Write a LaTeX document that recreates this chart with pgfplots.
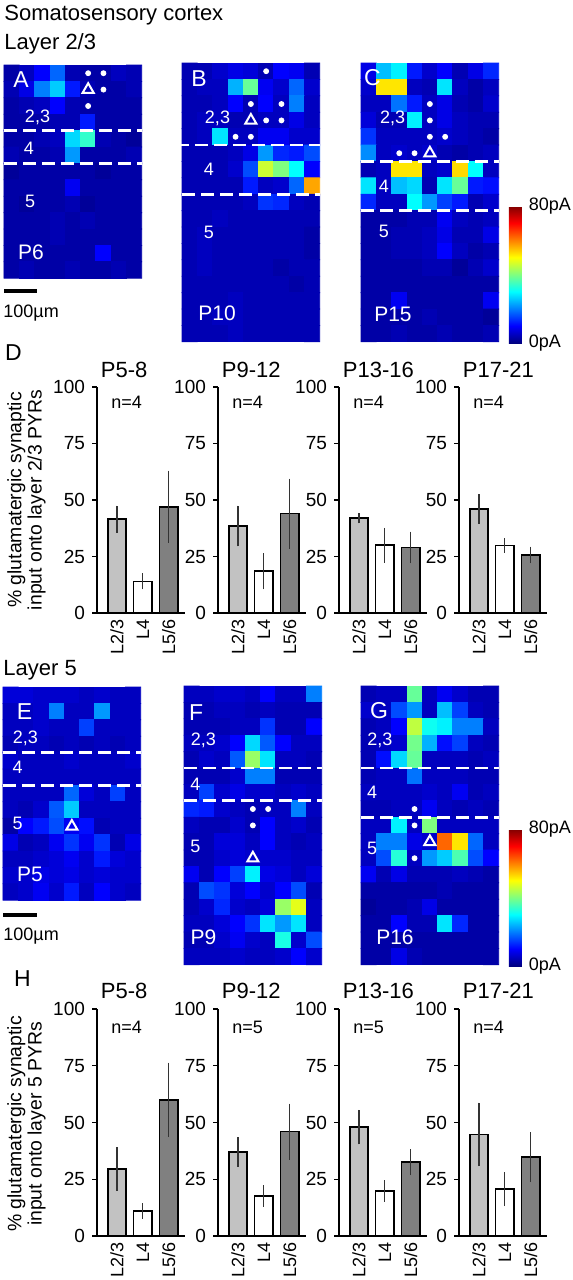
\documentclass[border=0pt]{standalone}
\usepackage{fontspec}
\setmainfont{Liberation Sans}
\usepackage{pgfplots}
\pgfplotsset{compat=1.18}
\newcommand\fhead{\fontsize{11}{12}\selectfont}
\newcommand\ftitle{\fontsize{11}{12}\selectfont}
\newcommand\ftick{\fontsize{9.5}{10}\selectfont}
\newcommand\fxt{\fontsize{9}{10}\selectfont}
\newcommand\fn{\fontsize{9}{10}\selectfont}
\newcommand\fcb{\fontsize{9}{10}\selectfont}
\newcommand\flay{\fontsize{9}{10}\selectfont}
\newcommand\fP{\fontsize{10.5}{11}\selectfont}
\newcommand\flet{\fontsize{11.5}{12}\selectfont}
\definecolor{barA}{gray}{0.76}
\definecolor{barC}{gray}{0.5}
\tikzset{
 hmdash/.style={white, line width=1.4pt, dash pattern=on 6.5pt off 3pt},
 hml/.style={text=white, inner sep=0pt},
}
\pgfplotsset{
 hm/.style={anchor=north west, scale only axis, width=68.85pt, hide axis,
   xmin=-0.5, xmax=8.5, ymin=-0.5, y dir=reverse, enlargelimits=false,
   colormap/jet, point meta min=0, point meta max=80, clip=false},
 cb/.style={colorbar, colorbar style={at={(parent axis.south east)}, anchor=south west,
   xshift=-3.5pt, yshift=-0.6pt, scale only axis, width=6.5pt, height=68.5pt,
   ytick={0,80}, yticklabels={0pA,80pA}, ytick style={draw=none},
   yticklabel style={font=\fcb}, axis line style={draw=none}}},
 barax/.style={anchor=south west, scale only axis, width=43.8pt,
   ymin=0, ymax=100, xmin=0.23, xmax=3.61, enlargelimits=false,
   axis x line*=bottom, axis y line*=left, ytick={0,25,50,75,100},
   xtick={1,2,3}, xticklabels={L2/3,L4,L5/6}, xtick style={draw=none},
   ytick style={line width=0.7pt, black}, tick align=outside, major tick length=2.5pt,
   axis line style={line width=0.7pt}, ybar, bar width=9.25pt, clip=false,
   yticklabel style={font=\ftick},
   xticklabel style={font=\fxt, rotate=90, anchor=east, inner sep=0.5pt},
   /pgf/number format/assume math mode=true},
 eb/.style={bar shift=0pt, draw=black, line width=0.8pt,
   error bars/.cd, y dir=both, y explicit, error mark=none,
   error bar style={line width=0.55pt, black!80}},
}
\def\titx{0.04}\def\tity{1.075}\def\nx{0.16}\def\ny{0.934}
\newcommand{\barpanel}[9]{%
\begin{axis}[barax, #1]
\addplot[fill=barA, eb] coordinates {(1,#4) +- (0,#5)};
\addplot[fill=white, eb] coordinates {(2,#6) +- (0,#7)};
\addplot[fill=barC, eb] coordinates {(3,#8) +- (0,#9)};
\node[anchor=west, inner sep=0pt, font=\ftitle] at (axis description cs:\titx,\tity) {#2};
\node[anchor=west, inner sep=0pt, font=\fn] at (axis description cs:\nx,\ny) {#3};
\end{axis}}
\begin{document}
\begin{tikzpicture}
\useasboundingbox (0,0) rectangle (286.5pt,-640pt);
% ---------- texts
\node[anchor=base west, inner sep=0pt, font=\fhead] at (2pt,-10.3pt) {Somatosensory cortex};
\node[anchor=base west, inner sep=0pt, font=\fhead] at (2pt,-24.7pt) {Layer 2/3};
\node[anchor=base west, inner sep=0pt, font=\fhead] at (1.5pt,-337.5pt) {Layer 5};
\node[inner sep=0pt, font=\flet] at (6.75pt,-176.25pt) {D};
\node[inner sep=0pt, font=\flet] at (11.25pt,-489.5pt) {H};
\fill (2pt,-144.5pt) rectangle (18.5pt,-146.5pt);
\node[anchor=base west, inner sep=0pt, font=\fn] at (1.5pt,-158.5pt) {100µm};
\fill (1.5pt,-456.5pt) rectangle (18.5pt,-458.5pt);
\node[anchor=base west, inner sep=0pt, font=\fn] at (1.5pt,-470pt) {100µm};
\node[rotate=90, align=center, font=\fontsize{9.7}{8.8}\selectfont] at (13.25pt,-250pt) {\% glutamatergic synaptic\\input onto layer 2/3 PYRs};
\node[rotate=90, align=center, font=\fontsize{9.7}{8.8}\selectfont] at (13.25pt,-562pt) {\% glutamatergic synaptic\\input onto layer 5 PYRs};
% ---------- A
\begin{axis}[hm, at={(2pt,-32.5pt)}, height=106.6pt, ymax=12.5]
\addplot[matrix plot*, mesh/cols=9, point meta=explicit] coordinates {
(0,0)[3] (1,0)[5] (2,0)[10] (3,0)[18] (4,0)[4] (5,0)[3] (6,0)[3] (7,0)[5] (8,0)[4]
(0,1)[4] (1,1)[8] (2,1)[20] (3,1)[26] (4,1)[12] (5,1)[4] (6,1)[3] (7,1)[3] (8,1)[4]
(0,2)[3] (1,2)[4] (2,2)[5] (3,2)[10] (4,2)[4] (5,2)[3] (6,2)[3] (7,2)[3] (8,2)[3]
(0,3)[3] (1,3)[3] (2,3)[3] (3,3)[4] (4,3)[4] (5,3)[12] (6,3)[3] (7,3)[3] (8,3)[3]
(0,4)[3] (1,4)[3] (2,4)[4] (3,4)[5] (4,4)[27] (5,4)[34] (6,4)[4] (7,4)[3] (8,4)[2]
(0,5)[4] (1,5)[3] (2,5)[3] (3,5)[4] (4,5)[22] (5,5)[3] (6,5)[3] (7,5)[3] (8,5)[4]
(0,6)[2] (1,6)[3] (2,6)[3] (3,6)[3] (4,6)[3] (5,6)[3] (6,6)[2] (7,6)[3] (8,6)[3]
(0,7)[3] (1,7)[3] (2,7)[3] (3,7)[3] (4,7)[9] (5,7)[3] (6,7)[3] (7,7)[3] (8,7)[3]
(0,8)[3] (1,8)[2] (2,8)[3] (3,8)[3] (4,8)[4] (5,8)[2] (6,8)[3] (7,8)[3] (8,8)[3]
(0,9)[3] (1,9)[3] (2,9)[3] (3,9)[4] (4,9)[3] (5,9)[4] (6,9)[3] (7,9)[3] (8,9)[3]
(0,10)[3] (1,10)[3] (2,10)[3] (3,10)[4] (4,10)[3] (5,10)[3] (6,10)[3] (7,10)[3] (8,10)[3]
(0,11)[3] (1,11)[3] (2,11)[3] (3,11)[3] (4,11)[3] (5,11)[3] (6,11)[10] (7,11)[3] (8,11)[3]
(0,12)[3] (1,12)[4] (2,12)[3] (3,12)[3] (4,12)[4] (5,12)[3] (6,12)[3] (7,12)[4] (8,12)[3]
};
\addplot[only marks, mark=*, mark size=1.25pt, white] coordinates {(5,0) (6,0) (6,1) (5,2)};
\addplot[only marks, mark=triangle, mark size=3.2pt, white, line width=1pt] coordinates {(5,1)};
\draw[hmdash] (axis cs:-0.5,3.5) -- (axis cs:8.5,3.5);
\draw[hmdash] (axis cs:-0.5,5.5) -- (axis cs:8.5,5.5);
\node[hml, font=\flet] at (axis cs:0.61,0.41) {A};
\node[hml, font=\flay] at (axis cs:1.69,2.67) {2,3};
\node[hml, font=\flay] at (axis cs:1.13,4.56) {4};
\node[hml, font=\flay] at (axis cs:1.2,7.8) {5};
\node[hml, font=\fP] at (axis cs:1.26,10.9) {P6};
\end{axis}
% ---------- B
\begin{axis}[hm, at={(91pt,-31.5pt)}, height=139.4pt, ymax=16.5]
\addplot[matrix plot*, mesh/cols=9, point meta=explicit] coordinates {
(0,0)[4] (1,0)[4] (2,0)[6] (3,0)[8] (4,0)[7] (5,0)[4] (6,0)[10] (7,0)[9] (8,0)[4]
(0,1)[4] (1,1)[5] (2,1)[5] (3,1)[24] (4,1)[38] (5,1)[9] (6,1)[6] (7,1)[18] (8,1)[6]
(0,2)[4] (1,2)[4] (2,2)[5] (3,2)[10] (4,2)[4] (5,2)[10] (6,2)[5] (7,2)[20] (8,2)[5]
(0,3)[4] (1,3)[5] (2,3)[5] (3,3)[4] (4,3)[4] (5,3)[5] (6,3)[5] (7,3)[8] (8,3)[5]
(0,4)[4] (1,4)[5] (2,4)[28] (3,4)[5] (4,4)[5] (5,4)[9] (6,4)[9] (7,4)[6] (8,4)[6]
(0,5)[4] (1,5)[4] (2,5)[4] (3,5)[5] (4,5)[8] (5,5)[22] (6,5)[13] (7,5)[12] (8,5)[16]
(0,6)[4] (1,6)[4] (2,6)[4] (3,6)[6] (4,6)[16] (5,6)[46] (6,6)[40] (7,6)[30] (8,6)[10]
(0,7)[4] (1,7)[4] (2,7)[4] (3,7)[4] (4,7)[12] (5,7)[5] (6,7)[6] (7,7)[18] (8,7)[57]
(0,8)[4] (1,8)[4] (2,8)[4] (3,8)[4] (4,8)[5] (5,8)[14] (6,8)[13] (7,8)[5] (8,8)[4]
(0,9)[4] (1,9)[4] (2,9)[5] (3,9)[4] (4,9)[4] (5,9)[4] (6,9)[4] (7,9)[4] (8,9)[4]
(0,10)[4] (1,10)[5] (2,10)[4] (3,10)[4] (4,10)[4] (5,10)[4] (6,10)[4] (7,10)[4] (8,10)[3]
(0,11)[4] (1,11)[5] (2,11)[4] (3,11)[4] (4,11)[4] (5,11)[4] (6,11)[4] (7,11)[4] (8,11)[3]
(0,12)[4] (1,12)[5] (2,12)[4] (3,12)[4] (4,12)[4] (5,12)[4] (6,12)[3] (7,12)[4] (8,12)[4]
(0,13)[4] (1,13)[4] (2,13)[4] (3,13)[4] (4,13)[4] (5,13)[4] (6,13)[4] (7,13)[3] (8,13)[4]
(0,14)[4] (1,14)[4] (2,14)[4] (3,14)[5] (4,14)[4] (5,14)[4] (6,14)[4] (7,14)[4] (8,14)[4]
(0,15)[4] (1,15)[4] (2,15)[5] (3,15)[5] (4,15)[4] (5,15)[4] (6,15)[4] (7,15)[4] (8,15)[4]
(0,16)[4] (1,16)[4] (2,16)[4] (3,16)[5] (4,16)[4] (5,16)[4] (6,16)[4] (7,16)[4] (8,16)[4]
};
\addplot[only marks, mark=*, mark size=1.25pt, white] coordinates {(5,0) (4,2) (6,2) (5,3) (6,3) (3,4) (4,4)};
\addplot[only marks, mark=triangle, mark size=3.2pt, white, line width=1pt] coordinates {(4,3)};
\draw[hmdash] (axis cs:-0.9,4.5) -- (axis cs:8.5,4.5);
\draw[hmdash] (axis cs:-0.5,7.5) -- (axis cs:8.5,7.5);
\node[hml, font=\flet] at (axis cs:0.61,0.48) {B};
\node[hml, font=\flay] at (axis cs:1.82,2.88) {2,3};
\node[hml, font=\flay] at (axis cs:1.26,5.96) {4};
\node[hml, font=\flay] at (axis cs:1.26,9.8) {5};
\node[hml, font=\fP] at (axis cs:1.79,14.74) {P10};
\end{axis}
% ---------- C
\begin{axis}[hm, cb, at={(180.5pt,-31.5pt)}, height=139.4pt, ymax=16.5]
\addplot[matrix plot*, mesh/cols=9, point meta=explicit] coordinates {
(0,0)[8] (1,0)[25] (2,0)[29] (3,0)[12] (4,0)[6] (5,0)[10] (6,0)[4] (7,0)[8] (8,0)[13]
(0,1)[6] (1,1)[52] (2,1)[52] (3,1)[5] (4,1)[4] (5,1)[28] (6,1)[5] (7,1)[3] (8,1)[5]
(0,2)[5] (1,2)[5] (2,2)[19] (3,2)[12] (4,2)[5] (5,2)[8] (6,2)[4] (7,2)[3] (8,2)[6]
(0,3)[7] (1,3)[4] (2,3)[4] (3,3)[29] (4,3)[5] (5,3)[8] (6,3)[5] (7,3)[4] (8,3)[4]
(0,4)[14] (1,4)[5] (2,4)[5] (3,4)[5] (4,4)[5] (5,4)[6] (6,4)[5] (7,4)[4] (8,4)[3]
(0,5)[21] (1,5)[5] (2,5)[6] (3,5)[5] (4,5)[6] (5,5)[4] (6,5)[3] (7,5)[4] (8,5)[5]
(0,6)[4] (1,6)[5] (2,6)[52] (3,6)[52] (4,6)[5] (5,6)[6] (6,6)[53] (7,6)[30] (8,6)[5]
(0,7)[28] (1,7)[5] (2,7)[25] (3,7)[27] (4,7)[4] (5,7)[28] (6,7)[38] (7,7)[12] (8,7)[11]
(0,8)[13] (1,8)[5] (2,8)[5] (3,8)[30] (4,8)[22] (5,8)[15] (6,8)[12] (7,8)[4] (8,8)[6]
(0,9)[3] (1,9)[3] (2,9)[3] (3,9)[4] (4,9)[4] (5,9)[9] (6,9)[5] (7,9)[4] (8,9)[5]
(0,10)[3] (1,10)[3] (2,10)[4] (3,10)[4] (4,10)[5] (5,10)[8] (6,10)[4] (7,10)[4] (8,10)[8]
(0,11)[3] (1,11)[3] (2,11)[4] (3,11)[4] (4,11)[5] (5,11)[10] (6,11)[5] (7,11)[3] (8,11)[4]
(0,12)[3] (1,12)[3] (2,12)[3] (3,12)[3] (4,12)[4] (5,12)[4] (6,12)[2] (7,12)[4] (8,12)[6]
(0,13)[3] (1,13)[3] (2,13)[3] (3,13)[3] (4,13)[3] (5,13)[3] (6,13)[3] (7,13)[3] (8,13)[3]
(0,14)[3] (1,14)[3] (2,14)[9] (3,14)[3] (4,14)[3] (5,14)[3] (6,14)[3] (7,14)[3] (8,14)[9]
(0,15)[3] (1,15)[3] (2,15)[3] (3,15)[3] (4,15)[4] (5,15)[3] (6,15)[3] (7,15)[3] (8,15)[2]
(0,16)[3] (1,16)[3] (2,16)[4] (3,16)[3] (4,16)[3] (5,16)[4] (6,16)[3] (7,16)[3] (8,16)[4]
};
\addplot[only marks, mark=*, mark size=1.25pt, white] coordinates {(4,2) (4,3) (4,4) (5,4) (2,5) (3,5)};
\addplot[only marks, mark=triangle, mark size=3.2pt, white, line width=1pt] coordinates {(4,5)};
\draw[hmdash] (axis cs:-0.5,5.5) -- (axis cs:8.5,5.5);
\draw[hmdash] (axis cs:-0.5,8.5) -- (axis cs:8.5,8.5);
\node[hml, font=\flet] at (axis cs:0.25,0.38) {C};
\node[hml, font=\flay] at (axis cs:1.56,2.88) {2,3};
\node[hml, font=\flay] at (axis cs:1.0,7.0) {4};
\node[hml, font=\flay] at (axis cs:1.0,9.74) {5};
\node[hml, font=\fP] at (axis cs:1.59,14.8) {P15};
\end{axis}
% ---------- E
\begin{axis}[hm, at={(1.5pt,-343.5pt)}, height=106.6pt, ymax=12.5]
\addplot[matrix plot*, mesh/cols=9, point meta=explicit] coordinates {
(0,0)[7] (1,0)[7] (2,0)[6] (3,0)[6] (4,0)[6] (5,0)[5] (6,0)[6] (7,0)[5] (8,0)[5]
(0,1)[5] (1,1)[5] (2,1)[6] (3,1)[20] (4,1)[5] (5,1)[5] (6,1)[22] (7,1)[5] (8,1)[5]
(0,2)[5] (1,2)[5] (2,2)[6] (3,2)[5] (4,2)[5] (5,2)[15] (6,2)[5] (7,2)[5] (8,2)[5]
(0,3)[4] (1,3)[5] (2,3)[5] (3,3)[4] (4,3)[5] (5,3)[4] (6,3)[5] (7,3)[4] (8,3)[5]
(0,4)[6] (1,4)[5] (2,4)[5] (3,4)[5] (4,4)[6] (5,4)[5] (6,4)[5] (7,4)[5] (8,4)[6]
(0,5)[5] (1,5)[5] (2,5)[5] (3,5)[5] (4,5)[5] (5,5)[5] (6,5)[5] (7,5)[5] (8,5)[5]
(0,6)[5] (1,6)[5] (2,6)[5] (3,6)[5] (4,6)[18] (5,6)[7] (6,6)[5] (7,6)[15] (8,6)[5]
(0,7)[5] (1,7)[4] (2,7)[6] (3,7)[17] (4,7)[26] (5,7)[5] (6,7)[5] (7,7)[5] (8,7)[5]
(0,8)[3] (1,8)[10] (2,8)[12] (3,8)[16] (4,8)[9] (5,8)[11] (6,8)[4] (7,8)[5] (8,8)[5]
(0,9)[8] (1,9)[4] (2,9)[5] (3,9)[9] (4,9)[14] (5,9)[9] (6,9)[14] (7,9)[4] (8,9)[8]
(0,10)[5] (1,10)[5] (2,10)[6] (3,10)[7] (4,10)[9] (5,10)[6] (6,10)[12] (7,10)[7] (8,10)[6]
(0,11)[6] (1,11)[6] (2,11)[8] (3,11)[7] (4,11)[8] (5,11)[6] (6,11)[7] (7,11)[6] (8,11)[6]
(0,12)[5] (1,12)[6] (2,12)[9] (3,12)[6] (4,12)[12] (5,12)[5] (6,12)[10] (7,12)[6] (8,12)[5]
};
\addplot[only marks, mark=triangle, mark size=3.2pt, white, line width=1pt] coordinates {(4,8)};
\draw[hmdash] (axis cs:-0.5,3.5) -- (axis cs:8.5,3.5);
\draw[hmdash] (axis cs:-0.5,5.5) -- (axis cs:8.5,5.5);
\node[hml, font=\flet] at (axis cs:0.9,0.99) {E};
\node[hml, font=\flay] at (axis cs:0.97,2.64) {2,3};
\node[hml, font=\flay] at (axis cs:0.45,4.41) {4};
\node[hml, font=\flay] at (axis cs:0.45,7.82) {5};
\node[hml, font=\fP] at (axis cs:1.26,10.93) {P5};
\end{axis}
% ---------- F
\begin{axis}[hm, at={(92pt,-343pt)}, height=139.4pt, ymax=16.5]
\addplot[matrix plot*, mesh/cols=9, point meta=explicit] coordinates {
(0,0)[5] (1,0)[5] (2,0)[6] (3,0)[6] (4,0)[5] (5,0)[10] (6,0)[5] (7,0)[5] (8,0)[20]
(0,1)[4] (1,1)[4] (2,1)[5] (3,1)[5] (4,1)[4] (5,1)[5] (6,1)[4] (7,1)[4] (8,1)[4]
(0,2)[4] (1,2)[4] (2,2)[4] (3,2)[5] (4,2)[5] (5,2)[14] (6,2)[4] (7,2)[4] (8,2)[10]
(0,3)[5] (1,3)[5] (2,3)[6] (3,3)[10] (4,3)[27] (5,3)[17] (6,3)[10] (7,3)[5] (8,3)[5]
(0,4)[4] (1,4)[6] (2,4)[5] (3,4)[17] (4,4)[42] (5,4)[28] (6,4)[5] (7,4)[5] (8,4)[4]
(0,5)[4] (1,5)[4] (2,5)[4] (3,5)[6] (4,5)[20] (5,5)[20] (6,5)[4] (7,5)[4] (8,5)[4]
(0,6)[5] (1,6)[15] (2,6)[6] (3,6)[8] (4,6)[6] (5,6)[6] (6,6)[5] (7,6)[6] (8,6)[5]
(0,7)[13] (1,7)[12] (2,7)[6] (3,7)[5] (4,7)[4] (5,7)[5] (6,7)[5] (7,7)[20] (8,7)[5]
(0,8)[5] (1,8)[4] (2,8)[4] (3,8)[6] (4,8)[4] (5,8)[10] (6,8)[5] (7,8)[6] (8,8)[4]
(0,9)[4] (1,9)[4] (2,9)[7] (3,9)[7] (4,9)[5] (5,9)[10] (6,9)[5] (7,9)[4] (8,9)[5]
(0,10)[4] (1,10)[4] (2,10)[6] (3,10)[7] (4,10)[6] (5,10)[6] (6,10)[6] (7,10)[5] (8,10)[5]
(0,11)[9] (1,11)[4] (2,11)[10] (3,11)[15] (4,11)[29] (5,11)[8] (6,11)[7] (7,11)[5] (8,11)[7]
(0,12)[4] (1,12)[16] (2,12)[14] (3,12)[7] (4,12)[10] (5,12)[6] (6,12)[10] (7,12)[16] (8,12)[4]
(0,13)[4] (1,13)[6] (2,13)[13] (3,13)[6] (4,13)[5] (5,13)[7] (6,13)[42] (7,13)[48] (8,13)[5]
(0,14)[5] (1,14)[5] (2,14)[7] (3,14)[10] (4,14)[14] (5,14)[28] (6,14)[22] (7,14)[28] (8,14)[5]
(0,15)[4] (1,15)[4] (2,15)[6] (3,15)[9] (4,15)[6] (5,15)[5] (6,15)[32] (7,15)[6] (8,15)[16]
(0,16)[5] (1,16)[5] (2,16)[5] (3,16)[6] (4,16)[5] (5,16)[5] (6,16)[6] (7,16)[10] (8,16)[6]
};
\addplot[only marks, mark=*, mark size=1.25pt, white] coordinates {(4,7) (5,7) (4,8)};
\addplot[only marks, mark=triangle, mark size=3.2pt, white, line width=1pt] coordinates {(4,10)};
\draw[hmdash] (axis cs:-0.5,4.5) -- (axis cs:8.5,4.5);
\draw[hmdash] (axis cs:-0.5,6.5) -- (axis cs:8.5,6.5);
\node[hml, font=\flet] at (axis cs:0.3,1.12) {F};
\node[hml, font=\flay] at (axis cs:0.77,2.79) {2,3};
\node[hml, font=\flay] at (axis cs:0.25,5.48) {4};
\node[hml, font=\flay] at (axis cs:0.25,9.3) {5};
\node[hml, font=\fP] at (axis cs:0.77,14.8) {P9};
\end{axis}
% ---------- G
\begin{axis}[hm, cb, at={(180.5pt,-343pt)}, height=139.4pt, ymax=16.5]
\addplot[matrix plot*, mesh/cols=9, point meta=explicit] coordinates {
(0,0)[4] (1,0)[5] (2,0)[5] (3,0)[38] (4,0)[5] (5,0)[9] (6,0)[6] (7,0)[4] (8,0)[4]
(0,1)[6] (1,1)[5] (2,1)[16] (3,1)[22] (4,1)[5] (5,1)[25] (6,1)[15] (7,1)[5] (8,1)[4]
(0,2)[4] (1,2)[5] (2,2)[10] (3,2)[45] (4,2)[31] (5,2)[29] (6,2)[20] (7,2)[20] (8,2)[5]
(0,3)[4] (1,3)[5] (2,3)[6] (3,3)[39] (4,3)[24] (5,3)[11] (6,3)[15] (7,3)[5] (8,3)[4]
(0,4)[4] (1,4)[11] (2,4)[27] (3,4)[38] (4,4)[5] (5,4)[5] (6,4)[5] (7,4)[4] (8,4)[5]
(0,5)[4] (1,5)[5] (2,5)[5] (3,5)[19] (4,5)[5] (5,5)[5] (6,5)[5] (7,5)[4] (8,5)[4]
(0,6)[5] (1,6)[5] (2,6)[5] (3,6)[5] (4,6)[6] (5,6)[5] (6,6)[9] (7,6)[4] (8,6)[5]
(0,7)[4] (1,7)[4] (2,7)[5] (3,7)[5] (4,7)[9] (5,7)[5] (6,7)[4] (7,7)[5] (8,7)[4]
(0,8)[5] (1,8)[5] (2,8)[29] (3,8)[5] (4,8)[40] (5,8)[5] (6,8)[5] (7,8)[5] (8,8)[5]
(0,9)[5] (1,9)[20] (2,9)[20] (3,9)[8] (4,9)[6] (5,9)[62] (6,9)[52] (7,9)[18] (8,9)[5]
(0,10)[5] (1,10)[16] (2,10)[33] (3,10)[5] (4,10)[22] (5,10)[26] (6,10)[36] (7,10)[16] (8,10)[10]
(0,11)[9] (1,11)[4] (2,11)[8] (3,11)[4] (4,11)[4] (5,11)[4] (6,11)[5] (7,11)[4] (8,11)[3]
(0,12)[3] (1,12)[3] (2,12)[3] (3,12)[3] (4,12)[3] (5,12)[4] (6,12)[3] (7,12)[3] (8,12)[3]
(0,13)[2] (1,13)[3] (2,13)[3] (3,13)[4] (4,13)[8] (5,13)[3] (6,13)[3] (7,13)[3] (8,13)[3]
(0,14)[3] (1,14)[3] (2,14)[10] (3,14)[4] (4,14)[4] (5,14)[28] (6,14)[13] (7,14)[3] (8,14)[3]
(0,15)[3] (1,15)[3] (2,15)[3] (3,15)[3] (4,15)[3] (5,15)[3] (6,15)[3] (7,15)[3] (8,15)[3]
(0,16)[3] (1,16)[3] (2,16)[8] (3,16)[4] (4,16)[3] (5,16)[3] (6,16)[3] (7,16)[3] (8,16)[3]
};
\addplot[only marks, mark=*, mark size=1.25pt, white] coordinates {(3,7) (3,8) (3,10)};
\addplot[only marks, mark=triangle, mark size=3.2pt, white, line width=1pt] coordinates {(4,9)};
\draw[hmdash] (axis cs:-0.5,4.5) -- (axis cs:8.5,4.5);
\draw[hmdash] (axis cs:-0.5,7.5) -- (axis cs:8.5,7.5);
\node[hml, font=\flet] at (axis cs:0.68,0.99) {G};
\node[hml, font=\flay] at (axis cs:0.74,2.79) {2,3};
\node[hml, font=\flay] at (axis cs:0.22,5.99) {4};
\node[hml, font=\flay] at (axis cs:0.22,9.38) {5};
\node[hml, font=\fP] at (axis cs:1.72,14.8) {P16};
\end{axis}
% ---------- D bar charts
\barpanel{at={(48.5pt,-306.5pt)}, height=113pt}{P5-8}{n=4}{41.5}{6}{14}{3.5}{47}{16}
\barpanel{at={(109pt,-306.5pt)}, height=113pt}{P9-12}{n=4}{38.5}{9}{18.5}{8}{44}{15.5}
\barpanel{at={(169.5pt,-306.5pt)}, height=113pt}{P13-16}{n=4}{42}{2.3}{30}{7.7}{29}{7}
\barpanel{at={(229.5pt,-306.5pt)}, height=113pt}{P17-21}{n=4}{46}{6.5}{29.8}{3.2}{25.7}{3.7}
% ---------- H bar charts
\def\tity{1.079}\def\ny{0.918}
\barpanel{at={(48.5pt,-618pt)}, height=113.5pt}{P5-8}{n=4}{29.5}{9.5}{11}{3.5}{60}{16.4}
\barpanel{at={(109pt,-618pt)}, height=113.5pt}{P9-12}{n=5}{37}{6.4}{17.6}{4.8}{46}{12.3}
\barpanel{at={(169.5pt,-618pt)}, height=113.5pt}{P13-16}{n=5}{48}{7.6}{19.8}{4.7}{32.5}{5.8}
\barpanel{at={(229.5pt,-618pt)}, height=113.5pt}{P17-21}{n=4}{44.8}{14}{20.7}{7.5}{34.7}{11}
\end{tikzpicture}
\end{document}
